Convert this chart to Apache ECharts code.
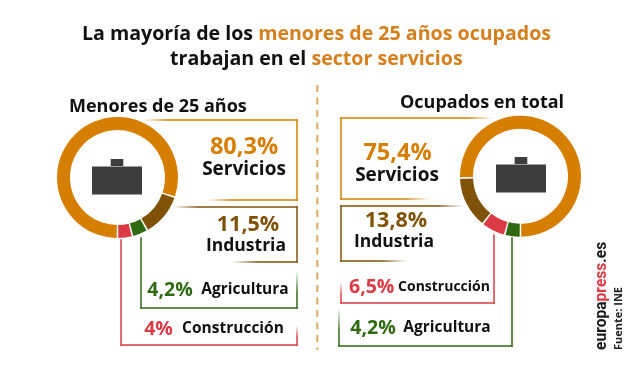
<!DOCTYPE html>
<html><head><meta charset="utf-8">
<style>html,body{margin:0;padding:0;background:#fff}#c{width:640px;height:365px}</style>
<script src="https://cdn.jsdelivr.net/npm/echarts@6/dist/echarts.min.js"></script>
</head><body><div id="c"></div>
<script>
const youngCategories = ['Servicios','Industria','Agricultura','Construcción'];
const youngValues = [80.3,11.5,4.2,4];
const totalCategories = ['Servicios','Industria','Construcción','Agricultura'];
const totalValues = [75.4,13.8,6.5,4.2];
const youngTitle = 'Menores de 25 años';
const totalTitle = 'Ocupados en total';

const FONT = '"Open Sans", sans-serif';
const ORANGE='#d67e00', BROWN='#7f5208', GREEN='#2f6a12', RED='#dc3a44', INK='#111111', ICON='#3d3d3d';
const colorOf = {Servicios:ORANGE,Industria:BROWN,Agricultura:GREEN,'Construcción':RED};
const fmt = v => String(v).replace('.',',') + '%';

const chart = echarts.init(document.getElementById('c'),null,{renderer:'canvas'});
const g = [];

function text(x,y,t,size,fill,weight,align){
  g.push({type:'text',x,y,silent:true,style:{text:t,fill,font:`${weight||700} ${size}px ${FONT}`,align:align||'center',verticalAlign:'middle'}});
}
function seg(a,b,color,fade){
  let stroke=color;
  if(fade){
    const len=Math.hypot(b[0]-a[0],b[1]-a[1]);
    const f=Math.min(25,len*0.6)/len;
    const c0=echarts.color.modifyAlpha(color,0), c1=echarts.color.modifyAlpha(color,1);
    stroke=new echarts.graphic.LinearGradient(a[0],a[1],b[0],b[1],
      fade==='in'?[{offset:0,color:c0},{offset:f,color:c1},{offset:1,color:c1}]
                 :[{offset:0,color:c1},{offset:1-f,color:c1},{offset:1,color:c0}],true);
  }
  g.push({type:'line',silent:true,shape:{x1:a[0],y1:a[1],x2:b[0],y2:b[1]},style:{stroke,lineWidth:1.5,lineCap:'square'}});
}
function connector(pts,color,fadeStart){
  pts.forEach((p,i)=>{
    if(i===pts.length-1)return;
    const q=pts[i+1];
    if(i===0 && fadeStart) seg(p,q,color,'in');
    else if(i===pts.length-2) seg(p,q,color,'out');
    else seg(p,q,color);
  });
}
function briefcase(cx,top){
  g.push({type:'rect',silent:true,shape:{x:cx-6.3,y:top,width:12.6,height:7},style:{fill:ICON}});
  g.push({type:'rect',silent:true,shape:{x:cx-25,y:top+7.5,width:50,height:28},style:{fill:ICON}});
}

connector([[143,120],[297,120],[297,200],[207,200]],ORANGE,true);
connector([[173,207],[297,207],[297,262],[232,262]],BROWN,true);
connector([[141,238],[141,308],[297,308],[297,270]],GREEN);
connector([[121,240],[121,345],[297,345],[297,325]],RED);
connector([[493,118],[341,118],[341,199],[430,199]],ORANGE,true);
connector([[463,206],[341,206],[341,261],[407,261]],BROWN,true);
connector([[494,235],[494,303],[341,303],[341,282]],RED);
connector([[512,238],[512,346],[339,346],[339,308]],GREEN);

g.push({type:'line',silent:true,shape:{x1:317.3,y1:85,x2:317.3,y2:350},style:{stroke:'#dba95f',lineWidth:2,lineDash:[7,5.5]}});

briefcase(117,159);
briefcase(521,157);

text(69,106.5,youngTitle,18,INK,700,'left');
text(400,103,totalTitle,18,INK,700,'left');

const L = {Servicios:[[244,147,23.5],[244,170,19]],Industria:[[248,225,21.5],[246,246,17.5]],Agricultura:[[170,290,19.5],[245,290,15.5]],'Construcción':[[158.5,329,19.5],[233,329,15.5]]};
youngCategories.forEach((c,i)=>{const [a,b]=L[c];
  text(a[0],a[1],fmt(youngValues[i]),a[2],colorOf[c],700);
  text(b[0],b[1],c,b[2],INK,700);});
const R = {Servicios:[[397.5,153,23.5],[397,176,19]],Industria:[[396,221,21.5],[394,242,17.5]],'Construcción':[[371.7,287,19.5],[444,287,14]],Agricultura:[[373,328,19.5],[447,328,15.5]]};
totalCategories.forEach((c,i)=>{const [a,b]=R[c];
  text(a[0],a[1],fmt(totalValues[i]),a[2],colorOf[c],700);
  text(b[0],b[1],c,b[2],INK,700);});

g.push({type:'text',silent:true,x:602,y:350,rotation:Math.PI/2,style:{
  text:'{a|europa}{b|press}{a|.es}',align:'left',verticalAlign:'middle',
  rich:{a:{fill:'#1a1a1a',font:'700 15.6px Roboto, sans-serif'},b:{fill:RED,font:'700 15.6px Roboto, sans-serif'}}}});
g.push({type:'text',silent:true,x:619,y:350,rotation:Math.PI/2,style:{
  text:'Fuente: INE',fill:'#222',font:`700 11px ${FONT}`,align:'left',verticalAlign:'middle'}});

function donut(center,data,cats,clockwise){
  return {type:'pie',silent:true,animation:false,center,radius:[47.5,60.5],startAngle:270,clockwise,padAngle:1.6,
    label:{show:false},labelLine:{show:false},
    data:data.map((v,i)=>({name:cats[i],value:v,itemStyle:{color:colorOf[cats[i]]}}))};
}

const titleRich = {k:{fontFamily:FONT,fontWeight:700,fontSize:19.6,color:INK},o:{fontFamily:FONT,fontWeight:700,fontSize:19.6,color:'#d67f1e'}};
chart.setOption({
  backgroundColor:'#fff',animation:false,
  title:[
    {left:82-5,top:19,textStyle:{rich:titleRich},text:'{k|La mayoría de los }{o|menores de 25 años ocupados}'},
    {left:170-5,top:44,textStyle:{rich:titleRich},text:'{k|trabajan en el }{o|sector servicios}'}
  ],
  series:[donut([117.5,177.5],youngValues,youngCategories,true),donut([520.5,176.3],totalValues,totalCategories,false)],
  graphic:{elements:g}
});
</script></body></html>
